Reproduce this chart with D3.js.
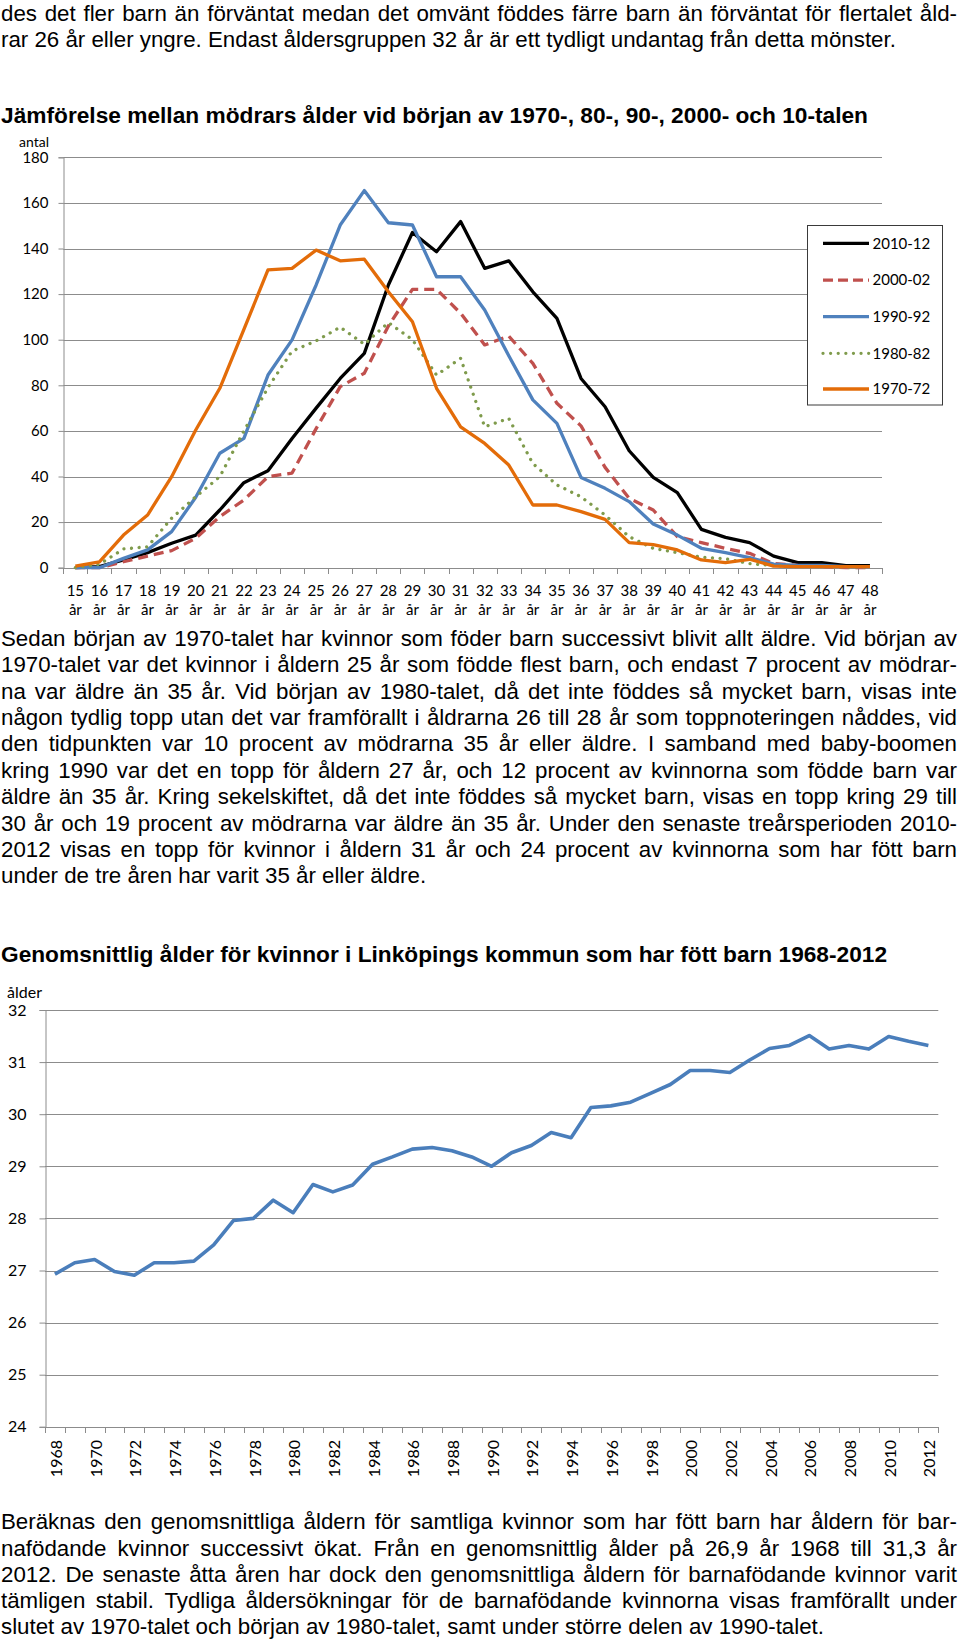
<!DOCTYPE html>
<html><head><meta charset="utf-8">
<script src="https://cdn.jsdelivr.net/npm/d3@7"></script>
<style>body{margin:0;background:#fff}svg{display:block}</style>
</head><body>
<svg id="c" width="960" height="1647"></svg>
<script>
// ---------- DATA ----------
const ages = ["15","16","17","18","19","20","21","22","23","24","25","26","27","28","29","30","31","32","33","34","35","36","37","38","39","40","41","42","43","44","45","46","47","48"];
const seriesNames = ["2010-12","2000-02","1990-92","1980-82","1970-72"];
const s2010 = [0,0.5,3.4,6.6,10.7,14.3,25.3,37.3,42.5,56.7,70,83,94,124,147,138.6,151.8,131.3,134.6,121,109.4,83,70.6,51.3,39.6,32.9,16.8,13.3,11,5.1,2.2,2.2,0.9,0.9];
const s2000 = [0,0,2.6,5.1,7.5,12.9,22.4,29.7,39.9,41.5,61,79.4,85.3,106,122.1,122.1,111.6,97.7,101.6,89.6,72.1,62.2,44,30.4,25.3,13.6,11,8.5,6.3,1.8,1,0.5,0,0];
const s1990 = [0,0,4.1,7.8,15.8,30.9,50.2,56.7,84.5,99.9,124,150.3,165.4,151.3,150.3,127.6,127.6,113,93,73.6,63.3,39.6,34.8,29,19.2,14.3,8.5,6.6,4.4,1.6,1,1,0.5,0.5];
const s1980 = [0,1.5,8.2,9.2,21.7,31.1,39.9,60,79,95,99.5,105.5,98,107.5,100,84.5,91.8,61.8,65.5,45.7,36.3,31.1,23.1,13.6,8.5,6.6,4.6,3.9,1.8,0.9,0.5,0.5,0.3,0.3];
const s1970 = [0.7,2.6,14.3,23.1,39.9,60.4,78.7,104.5,130.6,131.3,139.3,134.6,135.3,121,107.9,78.7,61.8,54.5,45,27.5,27.5,24.6,21.2,11,10.1,7.8,3.4,2.2,3.7,0.7,0.5,0.5,0.5,0.5];
const yTicks1 = [0,20,40,60,80,100,120,140,160,180];

const years = d3.range(1968, 2013).map(String);
const avgAge = [26.93,27.15,27.21,26.98,26.91,27.15,27.15,27.18,27.49,27.96,28.0,28.35,28.11,28.65,28.51,28.64,29.04,29.18,29.33,29.36,29.30,29.18,29.0,29.26,29.40,29.65,29.55,30.13,30.16,30.23,30.40,30.57,30.84,30.84,30.80,31.04,31.26,31.32,31.51,31.25,31.32,31.25,31.49,31.40,31.32];
const yTicks2 = [24,25,26,27,28,29,30,31,32];
const yearTickLabels = years.filter((d,i)=>i%2===0);

const para0 = [
 {t:"des det fler barn än förväntat medan det omvänt föddes färre barn än förväntat för flertalet åld-", j:true},
 {t:"rar 26 år eller yngre. Endast åldersgruppen 32 år är ett tydligt undantag från detta mönster.", j:false}
];
const para1 = [
 {t:"Sedan början av 1970-talet har kvinnor som föder barn successivt blivit allt äldre. Vid början av", j:true},
 {t:"1970-talet var det kvinnor i åldern 25 år som födde flest barn, och endast 7 procent av mödrar-", j:true},
 {t:"na var äldre än 35 år. Vid början av 1980-talet, då det inte föddes så mycket barn, visas inte", j:true},
 {t:"någon tydlig topp utan det var framförallt i åldrarna 26 till 28 år som toppnoteringen nåddes, vid", j:true},
 {t:"den tidpunkten var 10 procent av mödrarna 35 år eller äldre. I samband med baby-boomen", j:true},
 {t:"kring 1990 var det en topp för åldern 27 år, och 12 procent av kvinnorna som födde barn var", j:true},
 {t:"äldre än 35 år. Kring sekelskiftet, då det inte föddes så mycket barn, visas en topp kring 29 till", j:true},
 {t:"30 år och 19 procent av mödrarna var äldre än 35 år. Under den senaste treårsperioden 2010-", j:true},
 {t:"2012 visas en topp för kvinnor i åldern 31 år och 24 procent av kvinnorna som har fött barn", j:true},
 {t:"under de tre åren har varit 35 år eller äldre.", j:false}
];
const para2 = [
 {t:"Beräknas den genomsnittliga åldern för samtliga kvinnor som har fött barn har åldern för bar-", j:true},
 {t:"nafödande kvinnor successivt ökat. Från en genomsnittlig ålder på 26,9 år 1968 till 31,3 år", j:true},
 {t:"2012. De senaste åtta åren har dock den genomsnittliga åldern för barnafödande kvinnor varit", j:true},
 {t:"tämligen stabil. Tydliga åldersökningar för de barnafödande kvinnorna visas framförallt under", j:true},
 {t:"slutet av 1970-talet och början av 1980-talet, samt under större delen av 1990-talet.", j:false}
];
const title1 = "Jämförelse mellan mödrars ålder vid början av 1970-, 80-, 90-, 2000- och 10-talen";
const title2 = "Genomsnittlig ålder för kvinnor i Linköpings kommun som har fött barn 1968-2012";

// ---------- RENDER ----------
const svg = d3.select("#c");
const BODY = "'Liberation Sans', Arial, sans-serif";
const CH = "Lato, 'Open Sans', sans-serif";
const GRID = "#8c8c8c";

function paragraph(lines, x0, y0, lh, right, size){
  const g = svg.append("g").attr("font-family", BODY).attr("font-size", size).attr("fill", "#000");
  lines.forEach((ln, i) => {
    const y = y0 + i*lh;
    if (!ln.j) { g.append("text").attr("x", x0).attr("y", y).text(ln.t); return; }
    const words = ln.t.split(" ");
    const widths = words.map(w => {
      const t = g.append("text").attr("x", 0).attr("y", -100).text(w);
      const wd = t.node().getComputedTextLength(); t.remove(); return wd;
    });
    const total = d3.sum(widths);
    const gap = (right - x0 - total) / (words.length - 1);
    let x = x0;
    words.forEach((w, k) => {
      g.append("text").attr("x", x).attr("y", y).text(w);
      x += widths[k] + gap;
    });
  });
}

paragraph(para0, 1, 20.7, 26.6, 957, 22.3);
paragraph(para1, 1, 645.7, 26.4, 957, 22.3);
paragraph(para2, 1, 1529.3, 26.2, 957, 22.3);

svg.append("text").attr("x", 1).attr("y", 122.7).attr("font-family", BODY).attr("font-weight", "bold")
  .attr("font-size", 22.5).attr("textLength", 867).attr("lengthAdjust", "spacingAndGlyphs").text(title1);
svg.append("text").attr("x", 1).attr("y", 961.7).attr("font-family", BODY).attr("font-weight", "bold")
  .attr("font-size", 22.5).attr("textLength", 886).attr("lengthAdjust", "spacingAndGlyphs").text(title2);

// ---------- CHART 1 ----------
{
  const L = 63.3, R = 882, T = 157.3, B = 567.7;
  const x = d3.scaleBand().domain(ages).range([L, R]);
  const y = d3.scaleLinear().domain([0, 180]).range([B, T]);
  const g = svg.append("g").attr("font-family", CH).attr("font-size", 15).attr("fill", "#000");

  // gridlines
  g.append("g").selectAll("line").data(yTicks1.filter(d=>d>0)).join("line")
    .attr("x1", L).attr("x2", R).attr("y1", d=>Math.round(y(d))+0.5).attr("y2", d=>Math.round(y(d))+0.5)
    .attr("stroke", GRID).attr("stroke-width", 1);

  // y axis
  const ya = g.append("g").attr("transform", `translate(${Math.round(L)+0.5},0)`)
    .call(d3.axisLeft(y).tickValues(yTicks1).tickSize(5).tickPadding(10).tickFormat(d3.format("d")));
  ya.select(".domain").attr("stroke", GRID);
  ya.selectAll(".tick line").attr("stroke", GRID);
  ya.selectAll("text").attr("font-family", CH).attr("font-size", 15).attr("fill", "#000");

  // x axis
  const xa = g.append("g").attr("transform", `translate(0,${Math.round(B)+0.5})`)
    .call(d3.axisBottom(x).tickSize(0).tickFormat(""));
  xa.select(".domain").attr("stroke", GRID).attr("d", `M${L},0H${R}`);
  g.append("g").selectAll("line").data(d3.range(ages.length+1)).join("line")
    .attr("x1", i=>Math.round(L + i*x.step())+0.5).attr("x2", i=>Math.round(L + i*x.step())+0.5)
    .attr("y1", Math.round(B)).attr("y2", Math.round(B)+6).attr("stroke", GRID);
  const lab = g.append("g").selectAll("text").data(ages).join("text")
    .attr("text-anchor", "middle").attr("x", d=>x(d)+x.bandwidth()/2);
  lab.append("tspan").attr("x", d=>x(d)+x.bandwidth()/2).attr("y", 596).text(d=>d);
  lab.append("tspan").attr("x", d=>x(d)+x.bandwidth()/2).attr("y", 615).text("år");

  g.append("text").attr("x", 19).attr("y", 146.5).attr("font-size", 14).text("antal");

  const series = [
    {name: seriesNames[0], v: s2010, color: "#000000", dash: null},
    {name: seriesNames[1], v: s2000, color: "#C0504D", dash: "10,6"},
    {name: seriesNames[2], v: s1990, color: "#4F81BD", dash: null},
    {name: seriesNames[3], v: s1980, color: "#7F9B4C", dash: "0.01,7.6"},
    {name: seriesNames[4], v: s1970, color: "#E36C09", dash: null}
  ];
  const line = d3.line().x((d,i)=>x(ages[i])+x.bandwidth()/2).y(d=>y(d));
  series.forEach(s => {
    g.append("path").attr("d", line(s.v)).attr("fill", "none").attr("stroke", s.color)
      .attr("stroke-width", 3.3).attr("stroke-linejoin", "round")
      .attr("stroke-linecap", s.dash && s.dash.startsWith("0.01") ? "round" : "butt")
      .attr("stroke-dasharray", s.dash);
  });

  // legend
  const lg = g.append("g");
  lg.append("rect").attr("x", 807.5).attr("y", 225.5).attr("width", 135).attr("height", 179.5)
    .attr("fill", "#fff").attr("stroke", "#3a3a3a").attr("stroke-width", 1);
  const ly = [243.3, 280.2, 316.7, 353.3, 389];
  series.forEach((s, i) => {
    lg.append("line").attr("x1", 823).attr("x2", 869).attr("y1", ly[i]).attr("y2", ly[i])
      .attr("stroke", s.color).attr("stroke-width", 3.3)
      .attr("stroke-linecap", s.dash && s.dash.startsWith("0.01") ? "round" : "butt")
      .attr("stroke-dasharray", s.dash ? (s.dash.startsWith("0.01") ? "0.01,7.6" : "10,5") : null);
    lg.append("text").attr("x", 872.5).attr("y", ly[i]).attr("dy", "0.35em").attr("font-size", 15).text(s.name);
  });
}

// ---------- CHART 2 ----------
{
  const L = 45, R = 938.3, T = 1010, B = 1426.8;
  const x = d3.scaleBand().domain(years).range([L, R]);
  const y = d3.scaleLinear().domain([24, 32]).range([B, T]);
  const g = svg.append("g").attr("font-family", CH).attr("font-size", 16).attr("fill", "#000");

  g.append("g").selectAll("line").data(yTicks2.filter(d=>d>24)).join("line")
    .attr("x1", L).attr("x2", R).attr("y1", d=>Math.round(y(d))+0.5).attr("y2", d=>Math.round(y(d))+0.5)
    .attr("stroke", GRID).attr("stroke-width", 1);

  const ya = g.append("g").attr("transform", `translate(${L+0.5},0)`)
    .call(d3.axisLeft(y).tickValues(yTicks2).tickSize(6).tickPadding(13).tickFormat(d3.format("d")));
  ya.select(".domain").attr("stroke", GRID);
  ya.selectAll(".tick line").attr("stroke", GRID);
  ya.selectAll("text").attr("font-family", CH).attr("font-size", 16).attr("fill", "#000");

  const xa = g.append("g").attr("transform", `translate(0,${Math.round(B)+0.5})`)
    .call(d3.axisBottom(x).tickSize(0).tickFormat(""));
  xa.select(".domain").attr("stroke", GRID).attr("d", `M${L},0H${R}`);
  g.append("g").selectAll("line").data(d3.range(years.length+1)).join("line")
    .attr("x1", i=>Math.round(L + i*x.step())+0.5).attr("x2", i=>Math.round(L + i*x.step())+0.5)
    .attr("y1", Math.round(B)).attr("y2", Math.round(B)+6).attr("stroke", GRID);

  g.append("g").selectAll("text").data(yearTickLabels).join("text")
    .attr("transform", d=>`translate(${x(d)+x.bandwidth()/2+1.5},1440) rotate(-90)`)
    .attr("text-anchor", "end").attr("dy", "0.35em").attr("font-size", 16).text(d=>d);

  g.append("text").attr("x", 7).attr("y", 997.5).attr("font-size", 16).text("ålder");

  const line = d3.line().x((d,i)=>x(years[i])+x.bandwidth()/2).y(d=>y(d));
  g.append("path").attr("d", line(avgAge)).attr("fill", "none").attr("stroke", "#4A7EBB")
    .attr("stroke-width", 3.6).attr("stroke-linejoin", "round");
}
</script>
</body></html>
